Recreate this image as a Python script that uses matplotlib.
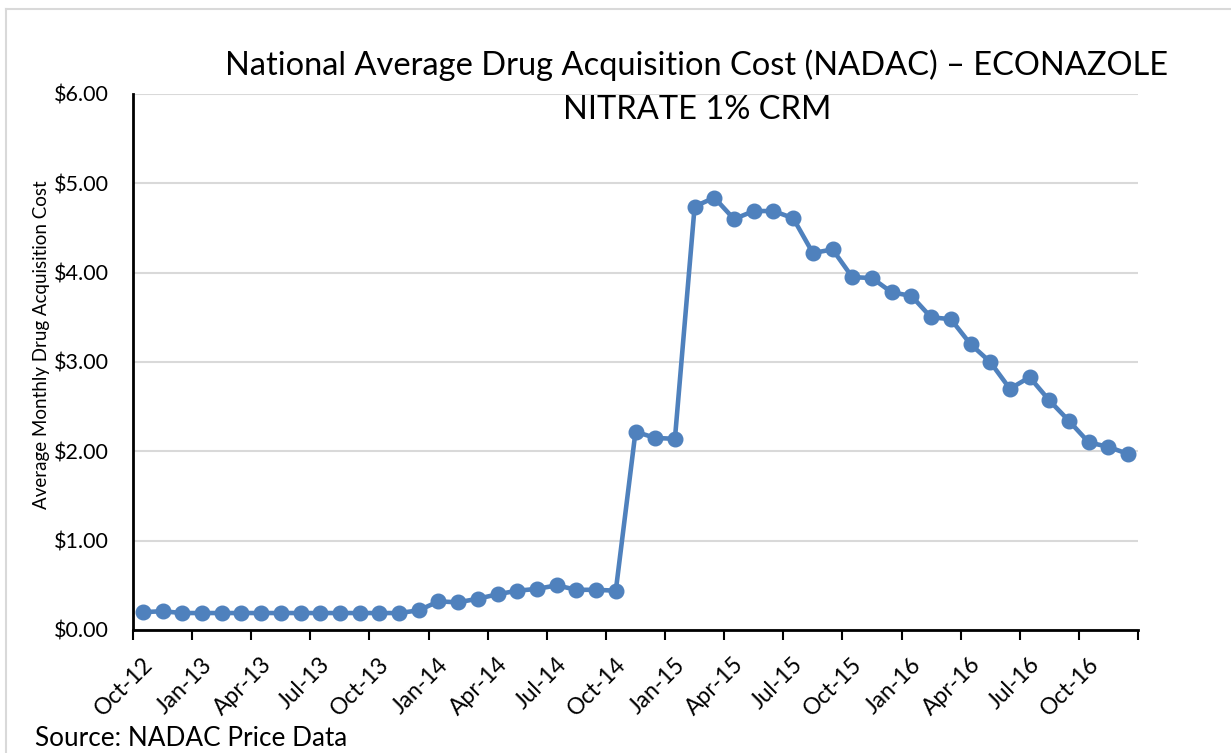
import matplotlib
matplotlib.use("Agg")
import matplotlib.pyplot as plt
from matplotlib.lines import Line2D
from matplotlib.transforms import Bbox, ScaledTranslation

months = ["Oct-12", "Nov-12", "Dec-12", "Jan-13", "Feb-13", "Mar-13", "Apr-13", "May-13", "Jun-13",
          "Jul-13", "Aug-13", "Sep-13", "Oct-13", "Nov-13", "Dec-13", "Jan-14", "Feb-14", "Mar-14",
          "Apr-14", "May-14", "Jun-14", "Jul-14", "Aug-14", "Sep-14", "Oct-14", "Nov-14", "Dec-14",
          "Jan-15", "Feb-15", "Mar-15", "Apr-15", "May-15", "Jun-15", "Jul-15", "Aug-15", "Sep-15",
          "Oct-15", "Nov-15", "Dec-15", "Jan-16", "Feb-16", "Mar-16", "Apr-16", "May-16", "Jun-16",
          "Jul-16", "Aug-16", "Sep-16", "Oct-16", "Nov-16", "Dec-16"]
cost = [0.20, 0.21, 0.19, 0.19, 0.19, 0.19, 0.19, 0.19, 0.19, 0.19, 0.19, 0.19, 0.19, 0.19, 0.22,
        0.32, 0.31, 0.35, 0.40, 0.44, 0.46, 0.50, 0.45, 0.45, 0.44,
        2.22, 2.15, 2.14, 4.74, 4.84, 4.60, 4.69, 4.69, 4.61, 4.22, 4.26,
        3.95, 3.94, 3.78, 3.74, 3.50, 3.48, 3.20, 3.00, 2.70, 2.83, 2.57, 2.34, 2.10, 2.05, 1.97]
yticks = [0, 1, 2, 3, 4, 5, 6]
ytick_labels = ["$0.00", "$1.00", "$2.00", "$3.00", "$4.00", "$5.00", "$6.00"]
title_line1 = "National Average Drug Acquisition Cost (NADAC) \u2013 ECONAZOLE"
title_line2 = "NITRATE 1% CRM"
ylabel_text = "Average Monthly Drug Acquisition Cost"
source_text = "Source: NADAC Price Data"

plt.rcParams['font.family'] = ['Lato', 'DejaVu Sans']

W, H = 1231, 753
fig = plt.figure(figsize=(W / 100, H / 100), dpi=100)
fig.patch.set_facecolor("white")

def fx(px):
    return px / W

def fy(py):
    return 1 - py / H

ax = fig.add_axes([fx(133), fy(630), fx(1138) - fx(133), fy(94) - fy(630)])
ax.set_xlim(-0.5, len(months) - 0.5)
ax.set_ylim(0, 6)

x = list(range(len(months)))
ax.plot(x, cost, color="#4F81BD", lw=3.3, marker="o", ms=10.5, zorder=3, solid_joinstyle="round")

ax.set_yticks(yticks)
ax.set_yticklabels(ytick_labels, fontsize=15.5)
ax.tick_params(axis="y", length=0, pad=17.3)
ax.grid(axis="y", color="#d9d9d9", lw=1.5, zorder=0)
ax.set_axisbelow(True)

tick_pos = [i - 0.5 for i in range(0, len(months) + 1, 3)]
tick_lab = [months[i] if i < len(months) else "" for i in range(0, len(months) + 1, 3)]
ax.set_xticks(tick_pos)
ax.set_xticklabels(tick_lab, fontsize=16.5, rotation=45, ha="right", va="top", rotation_mode="anchor")
ax.tick_params(axis="x", length=7, width=1.5, direction="out", pad=3)
offset = ScaledTranslation(9 / 100, -10 / 100, fig.dpi_scale_trans)
for lab in ax.get_xticklabels():
    lab.set_transform(lab.get_transform() + offset)

for s in ["top", "right"]:
    ax.spines[s].set_visible(False)
ax.spines["left"].set_linewidth(2)
ax.spines["bottom"].set_linewidth(2)

fig.text(fx(697), fy(65), title_line1, fontsize=23.5, ha="center", va="center")
fig.text(fx(697), fy(110), title_line2, fontsize=23.5, ha="center", va="center")

yl = fig.text(fx(47.5), fy(345), ylabel_text, fontsize=13.5, rotation=90,
              ha="center", va="baseline", rotation_mode="anchor")
yl.set_clip_box(Bbox([[0, 0], [48.5, fy(179) * H]]))
yl.set_clip_on(True)

fig.text(fx(35), fy(738), source_text, fontsize=18.8, ha="left", va="center")

fig.add_artist(Line2D([fx(6), fx(6)], [0, fy(9)], color="#d9d9d9", lw=1.5, transform=fig.transFigure))
fig.add_artist(Line2D([fx(6), 1], [fy(9), fy(9)], color="#d9d9d9", lw=1.5, transform=fig.transFigure))

fig.savefig("out.png", dpi=100)
